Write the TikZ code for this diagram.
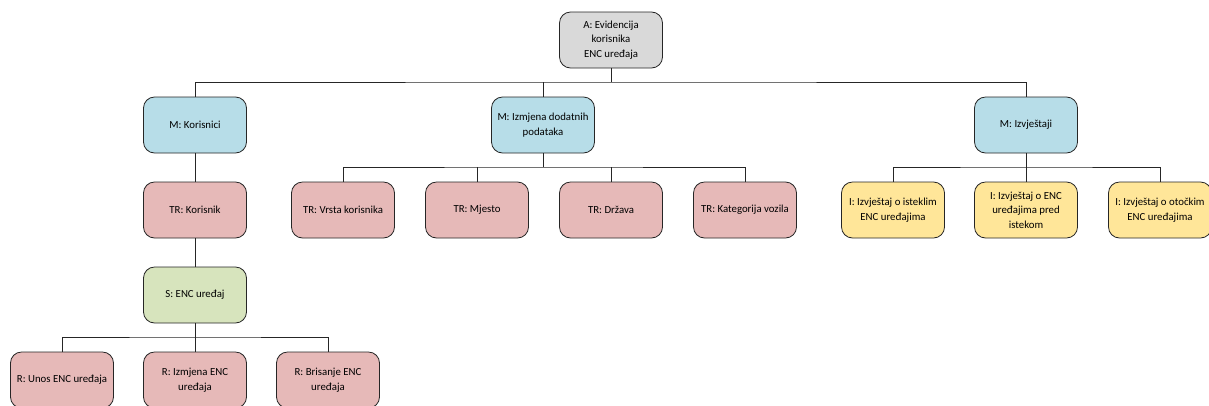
\documentclass[tikz,border=0pt]{standalone}
\usepackage{fontspec}
\setmainfont{Carlito}
\begin{document}
\begin{tikzpicture}[x=1pt,y=-1pt,
  box/.style={draw=black!85,line width=0.8pt,rounded corners=11pt,minimum width=103pt,minimum height=56pt,align=center,font=\fontsize{10.8}{14.5}\selectfont,inner sep=1pt},
  gbox/.style={box,fill=gray!30},
  mbox/.style={box,fill=mblue},
  tbox/.style={box,fill=tpink},
  sbox/.style={box,fill=sgreen},
  ibox/.style={box,fill=iyellow},
  conn/.style={draw=black!85,line width=0.7pt}]
\definecolor{mblue}{HTML}{B7DDE8}
\definecolor{tpink}{HTML}{E6B9B8}
\definecolor{sgreen}{HTML}{D7E4BD}
\definecolor{iyellow}{HTML}{FFE699}
\useasboundingbox (0,0) rectangle (1209,405);
\clip (0,0) rectangle (1209,405);
\node[gbox] (A) at (611,40) {A: Evidencija\\korisnika\\ENC uređaja};
\node[mbox] (M1) at (195,125) {M: Korisnici};
\node[mbox] (M2) at (543,125) {M: Izmjena dodatnih\\podataka};
\node[mbox] (M3) at (1026,125) {M: Izvještaji};
\node[tbox] (T1) at (195,210) {TR: Korisnik};
\node[tbox] (T2) at (343,210) {TR: Vrsta korisnika};
\node[tbox] (T3) at (477,210) {TR: Mjesto};
\node[tbox] (T4) at (611,210) {TR: Država};
\node[tbox] (T5) at (745,210) {TR: Kategorija vozila};
\node[ibox] (I1) at (893,210) {I: Izvještaj o isteklim\\ENC uređajima};
\node[ibox] (I2) at (1026,210) {I: Izvještaj o ENC\\uređajima pred\\istekom};
\node[ibox] (I3) at (1160,210) {I: Izvještaj o otočkim\\ENC uređajima};
\node[sbox] (S) at (195,295) {S: ENC uređaj};
\node[tbox] (R1) at (62,380) {R: Unos ENC uređaja};
\node[tbox] (R2) at (195,380) {R: Izmjena ENC\\uređaja};
\node[tbox] (R3) at (328,380) {R: Brisanje ENC\\uređaja};
% connectors
\coordinate (b0) at (611,82);
\draw[conn] (A.south) -- (b0);
\draw[conn] (M1.north) |- (b0) -| (M3.north);
\draw[conn] (M2.north) -- (M2.north |- b0);
\coordinate (b2) at (543,167);
\draw[conn] (M2.south) -- (b2);
\draw[conn] (T2.north) |- (b2) -| (T5.north);
\draw[conn] (T3.north) -- (T3.north |- b2);
\draw[conn] (T4.north) -- (T4.north |- b2);
\coordinate (b3) at (1026,167);
\draw[conn] (M3.south) -- (b3);
\draw[conn] (I1.north) |- (b3) -| (I3.north);
\draw[conn] (I2.north) -- (b3);
\draw[conn] (M1.south) -- (T1.north);
\draw[conn] (T1.south) -- (S.north);
\coordinate (b4) at (195,337);
\draw[conn] (S.south) -- (b4);
\draw[conn] (R1.north) |- (b4) -| (R3.north);
\draw[conn] (R2.north) -- (b4);
\end{tikzpicture}
\end{document}
